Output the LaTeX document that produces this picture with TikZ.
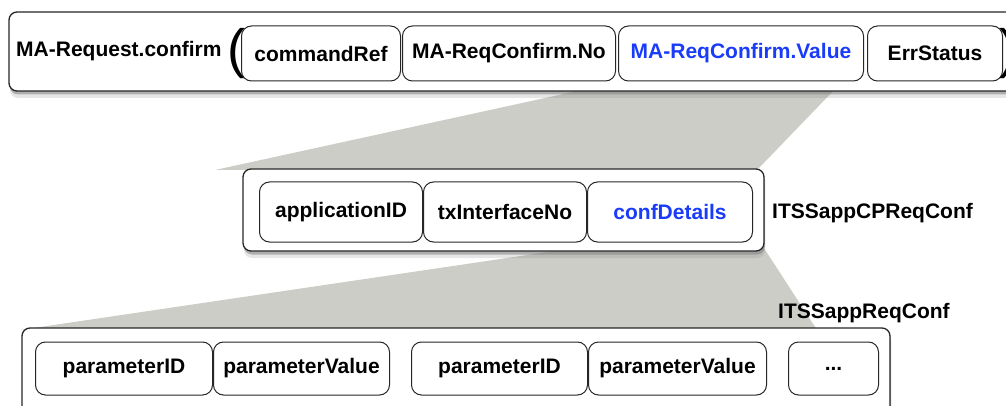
\documentclass[tikz,border=0pt]{standalone}
\usepackage{fontspec}
\setmainfont{Liberation Sans}
\usetikzlibrary{positioning}
\usetikzlibrary{shadows}
\usetikzlibrary{backgrounds}
\definecolor{fieldblue}{RGB}{25,60,250}
\definecolor{fangray}{RGB}{204,205,199}

\begin{document}
\begin{tikzpicture}[x=1pt, y=-1pt,
font=\fontsize{21}{25}\selectfont\bfseries,
outerbox/.style={rectangle, draw=black!85, line width=1.3pt, rounded corners=8pt, fill=white, inner sep=0pt,
  drop shadow={shadow xshift=1pt, shadow yshift=-7pt, opacity=.2},
  drop shadow={shadow xshift=1pt, shadow yshift=-3.5pt, opacity=.55}},
fieldbox/.style={rectangle, draw=black!85, line width=1pt, rounded corners=10pt, fill=white, inner sep=0pt},
bluefield/.style={fieldbox, text=fieldblue},
]
\useasboundingbox (0,0) rectangle (1006,406);

%Nodes
\node[outerbox, minimum width=1011pt, minimum height=79pt] (reqbox) at (514.5,51.5) {};
\node[anchor=west, inner sep=0pt] (reqname) at (16,51) {MA-Request.confirm};
\node[font=\fontsize{54}{54}\selectfont, inner sep=0pt] (lparen) at (236,54) {(};
\node[fieldbox, minimum width=159pt, minimum height=55pt, anchor=west] (cmdref) at (241,53.5) {commandRef};
\node[fieldbox, minimum width=213pt, minimum height=55pt] (confno)  [right=1pt of cmdref] {MA-ReqConfirm.No};
\node[bluefield, minimum width=245pt, minimum height=55pt] (confval) [right=2pt of confno] {MA-ReqConfirm.Value};
\node[fieldbox, minimum width=135pt, minimum height=55pt] (errstat) [right=3pt of confval] {ErrStatus};
\node[font=\fontsize{54}{54}\selectfont, inner sep=0pt] (rparen) at (1008,54) {)};

\node[outerbox, minimum width=521pt, minimum height=82pt] (cpbox) at (503.5,210) {};
\node[fieldbox, minimum width=163pt, minimum height=60pt, anchor=west] (appid) at (259,212) {applicationID};
\node[fieldbox, minimum width=163pt, minimum height=60pt] (txif)    [right=0pt of appid] {txInterfaceNo};
\node[bluefield, minimum width=165pt, minimum height=60pt] (confdet) [right=0pt of txif] {confDetails};
\node[anchor=west, inner sep=0pt] (cplabel) at (772,213) {ITSSappCPReqConf};

\node[outerbox, minimum width=868pt, minimum height=92pt] (reqconfbox) at (456,374) {};
\node[fieldbox, minimum width=177pt, minimum height=53pt, anchor=west] (parid1) at (35,368.5) {parameterID};
\node[fieldbox, minimum width=176pt, minimum height=53pt] (parval1) [right=0pt of parid1] {parameterValue};
\node[fieldbox, minimum width=176pt, minimum height=53pt] (parid2)  [right=21pt of parval1] {parameterID};
\node[fieldbox, minimum width=178pt, minimum height=53pt] (parval2) [right=0pt of parid2] {parameterValue};
\node[fieldbox, minimum width=90pt, minimum height=53pt]  (more)    [right=21pt of parval2] {...};
\node[anchor=west, inner sep=0pt] (reqlabel) at (778,313) {ITSSappReqConf};

%Fans
\begin{scope}[on background layer]
\fill[fangray] (600,86) -- (838,86) -- (757,170) -- (215,170) -- cycle;
\fill[fangray] (595,245) -- (762,245) -- (817,330) -- (20,330) -- cycle;
\end{scope}
\end{tikzpicture}
\end{document}
